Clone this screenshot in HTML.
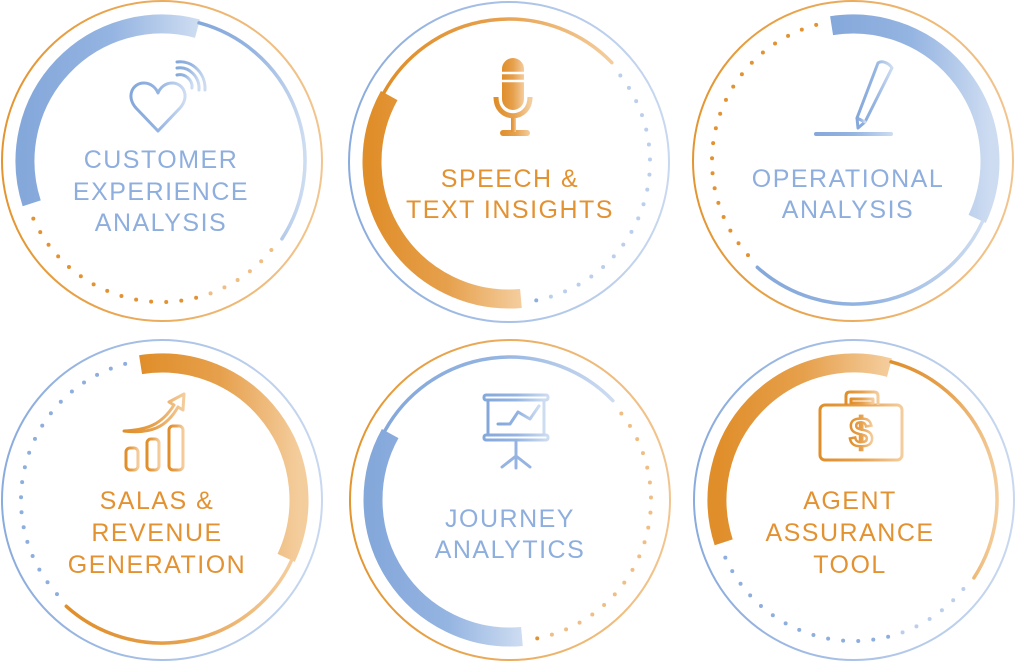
<!DOCTYPE html>
<html><head><meta charset="utf-8"><style>
html,body{margin:0;padding:0;background:#fff;}
svg{display:block;}
text{font-family:"Liberation Sans",sans-serif;font-size:25px;letter-spacing:1.5px;text-anchor:middle;}
.b{fill:#8eaede;} .o{fill:#e39232;}
</style></head><body>
<svg id="s" width="1017" height="662" viewBox="0 0 1017 662" xmlns="http://www.w3.org/2000/svg">
<defs>
<linearGradient id="gb" x1="0" x2="1" y1="0" y2="0"><stop offset="0" stop-color="#85a8db"/><stop offset="0.5" stop-color="#94b4e1"/><stop offset="1" stop-color="#cddcf1"/></linearGradient>
<linearGradient id="go" x1="0" x2="1" y1="0" y2="0"><stop offset="0" stop-color="#e08e2a"/><stop offset="0.5" stop-color="#e6a04c"/><stop offset="1" stop-color="#f4cd9d"/></linearGradient>
<linearGradient id="gbo" x1="0" x2="1"><stop offset="0" stop-color="#8aabdd"/><stop offset="1" stop-color="#c8d8f0"/></linearGradient>
<linearGradient id="goo" x1="0" x2="1"><stop offset="0" stop-color="#e3952f"/><stop offset="1" stop-color="#f2c58f"/></linearGradient>
</defs>
<g id="arcs"></g>

<!-- icons -->
<g fill="none" stroke="url(#gb)" stroke-width="3" stroke-linejoin="round" stroke-linecap="round">
<path d="M158 131 L136 108 C126 97 132 83 144 83 C151 83 156 88 158 93 C160 88 165 83 172 83 C184 83 190 97 180 108 Z"/>
<path d="M177 75 C185 73 193 80 192 88"/><path d="M177 68 C189 66 200 77 199 90"/><path d="M177 62 C193 60 206 74 205 90"/>
</g>
<g fill="url(#go)">
<rect x="502" y="58" width="22" height="52" rx="11"/>
<rect x="500" y="130" width="30" height="6" rx="3"/>
<rect x="511" y="116" width="5" height="16"/>
</g>
<g fill="none" stroke="url(#go)" stroke-width="5"><path d="M496 97 C496 122 530 122 530 97"/></g>
<g stroke="#fff" stroke-width="2.5"><line x1="500" y1="73" x2="526" y2="73"/><line x1="500" y1="81" x2="526" y2="81"/></g>
<g fill="none" stroke="url(#gb)" stroke-width="3" stroke-linejoin="round" stroke-linecap="round">
<path d="M878 63 C882 60 889 63 892 68 L865 122 L858 128 L857 118 Z"/>
<line x1="857" y1="118" x2="865" y2="122"/>
</g>
<rect x="814" y="132" width="79" height="4" rx="2" fill="url(#gb)"/>
<g fill="none" stroke="url(#go)" stroke-width="3" stroke-linejoin="round" stroke-linecap="round">
<rect x="126" y="448" width="12" height="22" rx="4"/>
<rect x="147" y="439" width="12" height="31" rx="4"/>
<rect x="169" y="426" width="14" height="44" rx="4"/>
<path d="M124 431 C148 430 162 424 174 405 L169 402 L184 394 L183 410 L178 407 C166 428 150 434 124 431 Z"/>
</g>
<g fill="none" stroke="url(#gb)" stroke-width="3" stroke-linejoin="round" stroke-linecap="round">
<rect x="484" y="395" width="64" height="5" rx="2"/>
<rect x="488" y="400" width="56" height="35"/>
<rect x="484" y="435" width="64" height="5" rx="2"/>
<path d="M498 424 L510 424 L518 412 L530 419 L539 406"/>
</g>
<g fill="none" stroke="#95b4e2" stroke-width="3" stroke-linejoin="round" stroke-linecap="round">
<path d="M516 440 L516 456 L502 467 M516 456 L530 467 M516 456 L516 468"/>
</g>
<g fill="none" stroke="url(#go)" stroke-width="3" stroke-linejoin="round">
<rect x="820" y="405" width="82" height="55" rx="5"/>
<path d="M846 405 L846 396 Q846 392 850 392 L874 392 Q878 392 878 396 L878 405"/>
<rect x="851" y="399" width="22" height="4"/>
</g>
<text x="861" y="447" style="font-size:42px;font-weight:bold;letter-spacing:0" fill="#fff" stroke="url(#go)" stroke-width="2.5">$</text>

<!-- labels -->
<text class="b" x="161" y="168">CUSTOMER</text>
<text class="b" x="161" y="200">EXPERIENCE</text>
<text class="b" x="161" y="231">ANALYSIS</text>
<text class="o" x="510" y="187">SPEECH &amp;</text>
<text class="o" x="510" y="218">TEXT INSIGHTS</text>
<text class="b" x="848" y="187">OPERATIONAL</text>
<text class="b" x="848" y="218">ANALYSIS</text>
<text class="o" x="157" y="509">SALAS &amp;</text>
<text class="o" x="157" y="541">REVENUE</text>
<text class="o" x="157" y="573">GENERATION</text>
<text class="b" x="510" y="527">JOURNEY</text>
<text class="b" x="510" y="558">ANALYTICS</text>
<text class="o" x="850" y="509">AGENT</text>
<text class="o" x="850" y="541">ASSURANCE</text>
<text class="o" x="850" y="573">TOOL</text>
</svg>
<script>
(function(){
var g=document.getElementById('arcs'),NS='http://www.w3.org/2000/svg';
function pt(cx,cy,r,a){a=a*Math.PI/180;return [cx+r*Math.cos(a),cy+r*Math.sin(a)];}
function arc(cx,cy,r,a1,a2){var p=pt(cx,cy,r,a1),q=pt(cx,cy,r,a2);var large=(a2-a1)>180?1:0;
return 'M'+p[0].toFixed(2)+' '+p[1].toFixed(2)+' A'+r+' '+r+' 0 '+large+' 1 '+q[0].toFixed(2)+' '+q[1].toFixed(2);}
function el(t,at){var e=document.createElementNS(NS,t);for(var k in at)e.setAttribute(k,at[k]);g.appendChild(e);return e;}
var P={A:{thick:[162,285],thin:[285,393],dots:[393,522]},
       B:{thick:[85,209],thin:[209,316],dots:[316,445]},
       C:{thick:[261,385],thin:[385,492],dots:[492,621]}};
var C=[[162,161,'A','b','o'],[509,162,'B','o','b'],[853,161,'C','b','o'],
       [162,500,'C','o','b'],[510,500,'B','b','o'],[854,500,'A','o','b']];
C.forEach(function(c){
 var cx=c[0],cy=c[1],p=P[c[2]],main=c[3],other=c[4];
 var gm=main=='b'?'url(#gb)':'url(#go)';
 var go=other=='b'?'url(#gbo)':'url(#goo)';
 var dotc=other=='b'?'#8eaede':'#e39232';
 el('circle',{cx:cx,cy:cy,r:160,fill:'none',stroke:go,'stroke-width':2});
 el('path',{d:arc(cx,cy,137,p.thick[0],p.thick[1]),fill:'none',stroke:gm,'stroke-width':19});
 el('path',{d:arc(cx,cy,143,p.thin[0],p.thin[1]),fill:'none',stroke:gm,'stroke-width':3.5,'stroke-linecap':'round'});
 var a1=p.dots[0],a2=p.dots[1],n=Math.round((a2-a1)*Math.PI/180*141/15);
 for(var i=1;i<n;i++){var a=a1+(a2-a1)*i/n;var q=pt(cx,cy,141,a);
  el('circle',{cx:q[0].toFixed(2),cy:q[1].toFixed(2),r:2,fill:dotc,opacity:(q[0]>cx+40?0.6:1)});}
});
})();
</script>
</body></html>
